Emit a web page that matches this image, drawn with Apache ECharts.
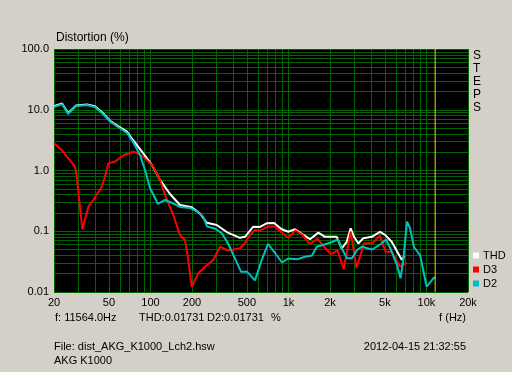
<!DOCTYPE html>
<html><head><meta charset="utf-8">
<script src="https://cdn.jsdelivr.net/npm/echarts@6/dist/echarts.min.js"></script>
<style>html,body{margin:0;padding:0;background:#d4d0c8;}#c{width:512px;height:372px;}</style>
</head><body><div id="c"></div>
<script>
const FONT = 'Liberation Sans, Arial, sans-serif';
const xTicks = [20, 50, 100, 200, 500, 1000, 2000, 5000, 10000, 20000];
const xTickLabels = ['20', '50', '100', '200', '500', '1k', '2k', '5k', '10k', '20k'];
const yTicks = [0.01, 0.1, 1, 10, 100];
const yTickLabels = ['0.01', '0.1', '1.0', '10.0', '100.0'];
const xGrid = [20, 30, 40, 50, 60, 70, 80, 90, 100, 200, 300, 400, 500, 600, 700, 800, 900, 1000,
  2000, 3000, 4000, 5000, 6000, 7000, 8000, 9000, 10000, 20000];
const yGrid = [0.01, 0.02, 0.03, 0.04, 0.05, 0.06, 0.07, 0.08, 0.09, 0.1, 0.2, 0.3, 0.4, 0.5, 0.6, 0.7, 0.8, 0.9,
  1, 2, 3, 4, 5, 6, 7, 8, 9, 10, 20, 30, 40, 50, 60, 70, 80, 90, 100];
const cursorFreq = 11564;
const cursorRange = [0.01, 100];

const thdFreq = [20, 22.9, 25.3, 28.9, 34.7, 39.6, 45.3, 50.9, 58.2, 67.6, 74.7, 88.7, 102.6, 117.3, 138.5, 163.7,
  199, 228.6, 255.6, 302, 357, 445, 484, 556, 622, 695, 786, 893, 997, 1116, 1281, 1433, 1646, 1840, 2237,
  2432, 2643, 2825, 2985, 3208, 3487, 4011, 4607, 5007, 5600, 6616, 6934];
const thdVal = [11.4, 12.7, 8.8, 11.8, 12.2, 11.4, 8.8, 6.6, 5.4, 4.35, 3.18, 1.92, 1.23, 0.70, 0.41, 0.27,
  0.248, 0.196, 0.138, 0.127, 0.097, 0.078, 0.081, 0.119, 0.118, 0.135, 0.137, 0.108, 0.098, 0.108, 0.087,
  0.074, 0.095, 0.081, 0.081, 0.052, 0.067, 0.112, 0.081, 0.063, 0.077, 0.081, 0.098, 0.087, 0.067, 0.034, 0.039];

const d3Freq = [20, 22.7, 25.4, 28.4, 29.2, 32.1, 35.5, 38.5, 44.3, 46.8, 49.5, 55.3, 64.3, 75.1, 81.6, 93.9,
  104.9, 117.3, 127.5, 146.4, 163.7, 177.9, 188, 199, 222, 248, 285, 319, 357, 399, 445, 484, 526, 572, 622,
  711, 799, 893, 997, 1125, 1264, 1420, 1624, 1810, 2027, 2266, 2514, 2825, 3112, 3528, 4064, 4584, 5048,
  5600, 6432, 7192];
const d3Val = [2.8, 2.18, 1.59, 1.155, 0.79, 0.108, 0.254, 0.327, 0.541, 0.79, 1.31, 1.40, 1.80, 2.04, 1.92, 1.49,
  1.155, 0.698, 0.395, 0.185, 0.0868, 0.0718, 0.0336, 0.0122, 0.0203, 0.0261, 0.0336, 0.0557, 0.0491, 0.0501,
  0.0524, 0.0633, 0.0868, 0.105, 0.102, 0.12, 0.12, 0.0954, 0.078, 0.103, 0.0868, 0.0617, 0.0751, 0.0561,
  0.0422, 0.0482, 0.0239, 0.0983, 0.0248, 0.0633, 0.0633, 0.0851, 0.0461, 0.0461, 0.0263, 0.0304];

const d2Freq = [20, 22.9, 25.3, 28.9, 34.7, 39.6, 45.3, 50.9, 58.2, 67.6, 74.7, 84, 91.3, 99.2, 113.4, 127.5,
  143.3, 163.7, 193.4, 217.4, 240.4, 257, 293.6, 330, 365, 396, 453, 501, 572, 640, 711, 799, 898, 993, 1153,
  1318, 1481, 1610, 1779, 2068, 2286, 2444, 2656, 2887, 3138, 3411, 4030, 4684, 5091, 5534, 6118, 6486, 6796,
  7228, 7598, 8122, 8980, 10040, 11212, 11564];
const d2Val = [11.1, 12.4, 8.5, 11.5, 12.0, 11.1, 8.5, 6.4, 5.2, 4.14, 2.94, 1.80, 1.02, 0.515, 0.281, 0.327,
  0.292, 0.251, 0.242, 0.211, 0.175, 0.120, 0.111, 0.092, 0.063, 0.042, 0.0216, 0.0216, 0.0155, 0.0336,
  0.0617, 0.0439, 0.0306, 0.0356, 0.0345, 0.0381, 0.0399, 0.0561, 0.0594, 0.0665, 0.0731, 0.051, 0.0359,
  0.0359, 0.0491, 0.0557, 0.0501, 0.0617, 0.0731, 0.0491, 0.0278, 0.0168, 0.0336, 0.1436, 0.1131, 0.055,
  0.0406, 0.0122, 0.0168, 0.01731];

const pairs = (f, v) => f.map((x, i) => [x, v[i]]);

const chart = echarts.init(document.getElementById('c'), null, {renderer: 'canvas'});
const txt = (text, x, y, align, size) => ({
  type: 'text', x: x, y: y, silent: true,
  style: {text: text, fill: '#000', font: (size || 11) + 'px ' + FONT, textAlign: align || 'left', textVerticalAlign: 'middle'}
});
const gridStyle = {color: '#006400', width: 1, type: 'solid'};
chart.setOption({
  backgroundColor: '#d4d0c8',
  animation: false,
  grid: {left: 54, top: 49, right: 44, bottom: 80, show: true, backgroundColor: '#000', borderWidth: 0},
  xAxis: {
    type: 'log', logBase: 10, min: 20, max: 20000,
    axisLine: {show: false}, axisTick: {show: false}, splitLine: {show: false},
    axisLabel: {
      customValues: xTicks, color: '#000', fontSize: 11, fontFamily: FONT, margin: 5,
      showMinLabel: true, showMaxLabel: true,
      formatter: v => { const i = xTicks.findIndex(t => Math.abs(t - v) / t < 1e-6); return i >= 0 ? xTickLabels[i] : ''; }
    }
  },
  yAxis: {
    type: 'log', logBase: 10, min: 0.01, max: 100,
    axisLine: {show: false}, axisTick: {show: false}, splitLine: {show: false},
    axisLabel: {
      customValues: yTicks, color: '#000', fontSize: 11, fontFamily: FONT, margin: 5,
      showMinLabel: true, showMaxLabel: true,
      formatter: v => { const i = yTicks.findIndex(t => Math.abs(t - v) / t < 1e-6); return i >= 0 ? yTickLabels[i] : ''; }
    }
  },
  legend: {
    data: ['THD', 'D3', 'D2'], orient: 'vertical', left: 473, top: 250, padding: 0,
    itemWidth: 6, itemHeight: 6, itemGap: 3, icon: 'rect', selectedMode: false,
    textStyle: {color: '#000', fontSize: 11, fontFamily: FONT, padding: [0, 0, 0, -1]}
  },
  graphic: [
    txt('Distortion (%)', 56, 38, 'left', 12),
    txt('S', 473, 56, 'left', 12), txt('T', 473, 69, 'left', 12), txt('E', 473, 82, 'left', 12),
    txt('P', 473, 95, 'left', 12), txt('S', 473, 108, 'left', 12),
    txt('f: 11564.0Hz', 55, 318),
    txt('THD:0.01731', 139, 318),
    txt('D2:0.01731', 207, 318),
    txt('%', 271, 318),
    txt('f (Hz)', 466, 318, 'right'),
    txt('File: dist_AKG_K1000_Lch2.hsw', 54, 347),
    txt('2012-04-15 21:32:55', 466, 347, 'right'),
    txt('AKG K1000', 54, 361)
  ],
  series: [
    {
      name: 'grid', type: 'line', data: [], silent: true, z: 0,
      markLine: {
        z: 0, silent: true, symbol: ['none', 'none'], label: {show: false}, animation: false,
        emphasis: {disabled: true},
        lineStyle: gridStyle,
        data: xGrid.map(v => ({xAxis: v, lineStyle: gridStyle})).concat(yGrid.map(v => ({yAxis: v, lineStyle: gridStyle})))
      }
    },
    {name: 'THD', type: 'line', data: pairs(thdFreq, thdVal), showSymbol: false, symbol: 'none', z: 3,
      color: '#ffffff', itemStyle: {color: '#ffffff'}, lineStyle: {color: '#ffffff', width: 2}},
    {name: 'D3', type: 'line', data: pairs(d3Freq, d3Val), showSymbol: false, symbol: 'none', z: 4,
      color: '#ff0000', itemStyle: {color: '#ff0000'}, lineStyle: {color: '#ff0000', width: 2}},
    {name: 'D2', type: 'line', data: pairs(d2Freq, d2Val), showSymbol: false, symbol: 'none', z: 5,
      color: '#00c0c0', itemStyle: {color: '#00c0c0'}, lineStyle: {color: '#00c0c0', width: 2}},
    {
      name: 'cursor', type: 'line', silent: true, z: 10, showSymbol: false, symbol: 'none',
      data: cursorRange.map(v => [cursorFreq, v]),
      color: '#e0e000', lineStyle: {color: '#e0e000', width: 1}
    }
  ]
});
</script></body></html>
